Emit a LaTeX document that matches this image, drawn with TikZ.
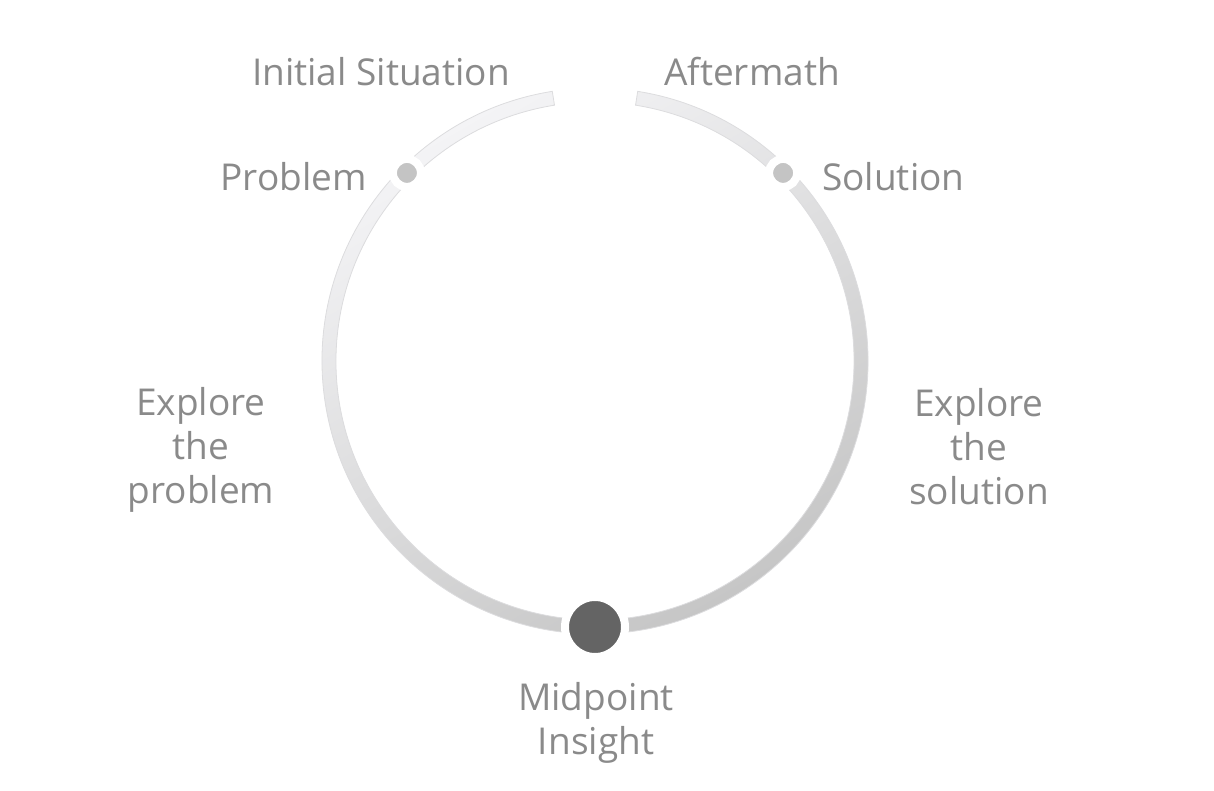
\documentclass[tikz,border=0pt]{standalone}
\usepackage{fontspec}
\setmainfont{Open Sans}
\usetikzlibrary{calc}
\definecolor{txt}{HTML}{8A8A8A}
\definecolor{ringtop}{HTML}{F4F4F6}
\definecolor{ringbot}{HTML}{C4C4C4}
\definecolor{ringedge}{HTML}{DCDCDE}
\definecolor{smalldot}{HTML}{C4C4C4}
\definecolor{bigdot}{HTML}{646464}
\tikzset{
  lbl/.style={text=txt, font=\fontsize{37}{44}\selectfont, inner sep=0pt, align=center},
  sdot/.style={circle, fill=smalldot, draw=white, line width=8pt, minimum size=28pt, inner sep=0pt},
  bdot/.style={circle, fill=bigdot, draw=white, line width=8pt, minimum size=60pt, inner sep=0pt},
}
\begin{document}
\begin{tikzpicture}[x=1pt,y=1pt]
\useasboundingbox (0,0) rectangle (1214,790);
\coordinate (O) at (595,429);
% ring
\shade[top color=ringtop, bottom color=ringbot, shading angle=30, draw=ringedge, line width=0.8pt]
  ($(O)+(99:273)$) arc[start angle=99, end angle=441, radius=273]
  -- ($(O)+(81:259)$) arc[start angle=441, end angle=99, radius=259] -- cycle;
% dots
\node[sdot] (pdot) at ($(O)+(135:266)$) {};
\node[sdot] (sdot) at ($(O)+(45:266)$) {};
\node[bdot] (mdot) at ($(O)+(270:266)$) {};
% labels
\node[lbl] (init) at (381,718) {Initial Situation};
\node[lbl] (after) at (752,718) {Aftermath};
\node[lbl, anchor=east] (prob) at (367,613) {Problem};
\node[lbl, anchor=west] (sol) at (822,613) {Solution};
\node[lbl] (explp) at (201,340) {Explore\\the\\problem};
\node[lbl] (expls) at (979,343) {Explore\\the\\solution};
\node[lbl] (mid) at (596,67) {Midpoint\\Insight};
\end{tikzpicture}
\end{document}
